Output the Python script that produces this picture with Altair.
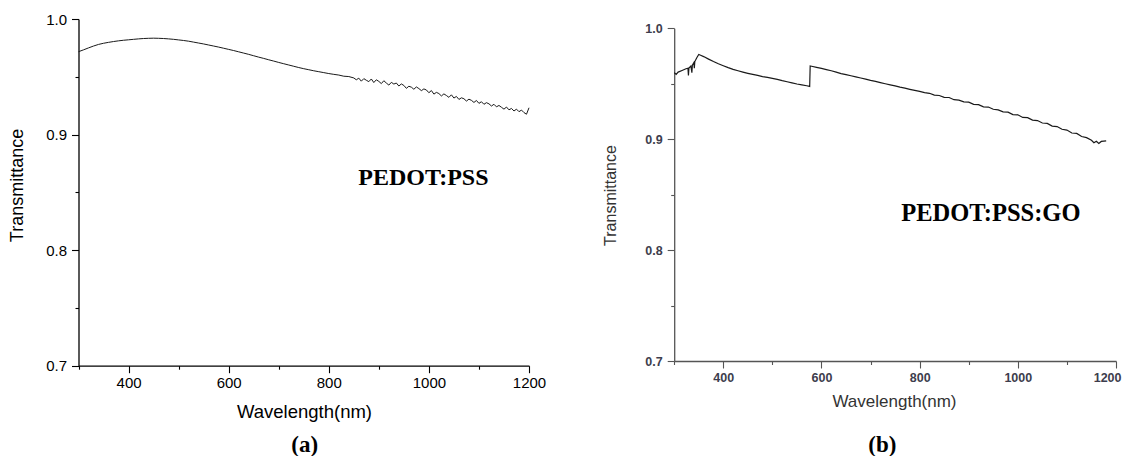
import altair as alt
import pandas as pd

# ---------------- data ----------------
# Panel (a): PEDOT:PSS
wl_a = [300, 310, 320, 330, 340, 350, 360, 370, 380, 390,
        400, 410, 420, 430, 440, 450, 460, 470, 480, 490,
        500, 510, 520, 530, 540, 550, 560, 570, 580, 590,
        600, 610, 620, 630, 640, 650, 660, 670, 680, 690,
        700, 710, 720, 730, 740, 750, 760, 770, 780, 790,
        800, 810, 820, 830, 840, 850, 855, 860, 865, 870,
        875, 880, 885, 890, 895, 900, 905, 910, 915, 920,
        925, 930, 935, 940, 945, 950, 955, 960, 965, 970,
        975, 980, 985, 990, 995, 1000, 1005, 1010, 1015, 1020,
        1025, 1030, 1035, 1040, 1045, 1050, 1055, 1060, 1065, 1070,
        1075, 1080, 1085, 1090, 1095, 1100, 1105, 1110, 1115, 1120,
        1125, 1130, 1135, 1140, 1145, 1150, 1155, 1160, 1165, 1170,
        1175, 1180, 1185, 1190, 1195, 1200]
t_a = [0.9717, 0.9733, 0.9750, 0.9766, 0.9780, 0.9790, 0.9798, 0.9805, 0.9811, 0.9816,
       0.9820, 0.9824, 0.9828, 0.9831, 0.9833, 0.9834, 0.9833, 0.9831, 0.9828, 0.9824,
       0.9819, 0.9814, 0.9808, 0.9800, 0.9792, 0.9784, 0.9775, 0.9766, 0.9757, 0.9747,
       0.9737, 0.9727, 0.9716, 0.9705, 0.9694, 0.9682, 0.9670, 0.9659, 0.9647, 0.9636,
       0.9624, 0.9613, 0.9602, 0.9591, 0.9580, 0.9570, 0.9561, 0.9552, 0.9544, 0.9536,
       0.9528, 0.9521, 0.9515, 0.9505, 0.9502, 0.9490, 0.9474, 0.9488, 0.9462, 0.9484,
       0.9470, 0.9458, 0.9481, 0.9450, 0.9474, 0.9460, 0.9441, 0.9466, 0.9446, 0.9428,
       0.9452, 0.9437, 0.9446, 0.9420, 0.9438, 0.9425, 0.9400, 0.9418, 0.9410, 0.9392,
       0.9412, 0.9398, 0.9380, 0.9395, 0.9386, 0.9362, 0.9381, 0.9350, 0.9365, 0.9355,
       0.9334, 0.9352, 0.9338, 0.9322, 0.9344, 0.9316, 0.9330, 0.9304, 0.9318, 0.9310,
       0.9290, 0.9306, 0.9296, 0.9278, 0.9295, 0.9270, 0.9284, 0.9262, 0.9276, 0.9266,
       0.9247, 0.9262, 0.9240, 0.9252, 0.9236, 0.9220, 0.9238, 0.9214, 0.9226, 0.9204,
       0.9220, 0.9198, 0.9212, 0.9190, 0.9176, 0.9232]

# Panel (b): PEDOT:PSS:GO
wl_b = [300, 304, 308, 316, 324, 328, 329, 330, 334, 336,
        337, 340, 341, 342, 346, 350, 355, 360, 370, 380,
        390, 400, 410, 420, 430, 440, 450, 460, 470, 480,
        490, 500, 510, 520, 530, 540, 550, 560, 570, 576,
        577, 580, 590, 600, 610, 620, 630, 640, 650, 660,
        670, 680, 690, 700, 710, 720, 730, 740, 750, 760,
        770, 780, 790, 800, 810, 820, 830, 840, 850, 860,
        870, 880, 890, 900, 910, 920, 930, 940, 950, 960,
        970, 980, 990, 1000, 1010, 1020, 1030, 1040, 1050, 1060,
        1070, 1080, 1090, 1100, 1110, 1120, 1130, 1140, 1150, 1155,
        1160, 1165, 1170, 1180]
t_b = [0.9600, 0.9585, 0.9605, 0.9620, 0.9635, 0.9640, 0.9575, 0.9642, 0.9660, 0.9600,
       0.9668, 0.9690, 0.9640, 0.9700, 0.9735, 0.9764, 0.9755, 0.9745, 0.9722, 0.9700,
       0.9680, 0.9662, 0.9645, 0.9630, 0.9617, 0.9605, 0.9594, 0.9584, 0.9575, 0.9565,
       0.9557, 0.9548, 0.9540, 0.9528, 0.9518, 0.9508, 0.9498, 0.9490, 0.9482, 0.9476,
       0.9660, 0.9658, 0.9648, 0.9638, 0.9628, 0.9617, 0.9605, 0.9592, 0.9582, 0.9572,
       0.9562, 0.9552, 0.9542, 0.9530, 0.9521, 0.9510, 0.9500, 0.9490, 0.9481, 0.9470,
       0.9461, 0.9450, 0.9440, 0.9431, 0.9420, 0.9414, 0.9398, 0.9394, 0.9378, 0.9376,
       0.9356, 0.9352, 0.9336, 0.9334, 0.9314, 0.9312, 0.9292, 0.9290, 0.9270, 0.9264,
       0.9246, 0.9244, 0.9222, 0.9220, 0.9196, 0.9194, 0.9172, 0.9168, 0.9146, 0.9142,
       0.9118, 0.9114, 0.9090, 0.9082, 0.9056, 0.9052, 0.9024, 0.9014, 0.8990, 0.8968,
       0.8982, 0.8962, 0.8980, 0.8985]

# annotation texts (positions in data units)
labels_a = ["PEDOT:PSS"]
label_a_wl = [989]
label_a_t = [0.862]
labels_b = ["PEDOT:PSS:GO"]
label_b_wl = [945]
label_b_t = [0.8327]
caption_a = ["(a)"]
caption_a_wl = [752]
caption_a_t = [0.6318]
caption_b = ["(b)"]
caption_b_wl = [724]
caption_b_t = [0.6245]

x_ticks = [300, 400, 500, 600, 700, 800, 900, 1000, 1100, 1200]
y_ticks = [0.7, 0.75, 0.8, 0.85, 0.9, 0.95, 1.0]

df_a = pd.DataFrame({"wl": wl_a, "T": t_a})
df_b = pd.DataFrame({"wl": wl_b, "T": t_b})
ann_a = pd.DataFrame({"wl": label_a_wl, "T": label_a_t, "txt": labels_a})
ann_b = pd.DataFrame({"wl": label_b_wl, "T": label_b_t, "txt": labels_b})
cap_a = pd.DataFrame({"wl": caption_a_wl, "T": caption_a_t, "txt": caption_a})
cap_b = pd.DataFrame({"wl": caption_b_wl, "T": caption_b_t, "txt": caption_b})

W, H = 1114, 448
SANS = "Liberation Sans"
SERIF = "Liberation Serif"

x_major = "datum.value % 200 == 0"
y_major = "abs(datum.value * 10 - round(datum.value * 10)) < 0.001"


def x_axis(offset, color, lab_color, lab_size, lab_weight, title_x, title_y,
           title_size, title_color, flush=False, flush_offset=0):
    return alt.Axis(
        orient="bottom", offset=offset, values=x_ticks, grid=False,
        labelExpr=f"({x_major}) ? format(datum.value, 'd') : ''",
        tickSize=alt.condition(x_major, alt.value(7), alt.value(3.5)),
        tickColor=color, tickWidth=1.1, domainColor=color, domainWidth=1.3,
        labelFont=SANS, labelFontSize=lab_size, labelColor=lab_color,
        labelFontWeight=lab_weight, labelPadding=3, labelFlush=flush,
        labelFlushOffset=flush_offset, labelOverlap=False,
        title="Wavelength(nm)", titleFont=SANS, titleFontSize=title_size,
        titleFontWeight="normal", titleColor=title_color,
        titleX=title_x, titleY=title_y, titleAlign="center", titleBaseline="middle",
    )


def y_axis(offset, color, lab_color, lab_size, lab_weight, title_x, title_y, title_size, title_color):
    return alt.Axis(
        orient="left", offset=offset, values=y_ticks, grid=False,
        labelExpr=f"({y_major}) ? format(datum.value, '.1f') : ''",
        tickSize=alt.condition(y_major, alt.value(7), alt.value(3.5)),
        tickColor=color, tickWidth=1.1, domainColor=color, domainWidth=1.3,
        labelFont=SANS, labelFontSize=lab_size, labelColor=lab_color,
        labelFontWeight=lab_weight, labelPadding=5, labelFlush=False, labelOverlap=False,
        title="Transmittance", titleFont=SANS, titleFontSize=title_size,
        titleFontWeight="normal", titleColor=title_color, titleAngle=270,
        titleX=title_x, titleY=title_y, titleAlign="center", titleBaseline="middle",
    )


# ---------------- panel (a) ----------------
xa = alt.X("wl:Q", scale=alt.Scale(domain=[300, 1200], range=[70.5, 521]),
           axis=x_axis(357.7 - H, "#000000", "#000000", 15, "normal", 296, 46, 18.5, "#000000"))
ya = alt.Y("T:Q", scale=alt.Scale(domain=[0.7, 1.0], range=[357.7, 11]),
           axis=y_axis(-70.5, "#000000", "#000000", 15, "normal", -61, 177, 18, "#000000"))

line_a = alt.Chart(df_a).mark_line(color="#1a1a1a", strokeWidth=1).encode(x=xa, y=ya)
text_a = alt.Chart(ann_a).mark_text(font=SERIF, fontSize=24, fontWeight="bold",
                                    color="#000000", baseline="middle", align="center").encode(
    x=xa, y=ya, text="txt:N")
capt_a = alt.Chart(cap_a).mark_text(font=SERIF, fontSize=23, fontWeight="bold",
                                    color="#000000", baseline="middle", align="center").encode(
    x=xa, y=ya, text="txt:N")
panel_a = alt.layer(line_a, text_a, capt_a)

# ---------------- panel (b) ----------------
xb = alt.X("wl:Q", scale=alt.Scale(domain=[300, 1200], range=[666.2, 1108]),
           axis=x_axis(353 - H, "#555555", "#3d3d4d", 12.5, "bold", 886, 40.7, 17, "#333333",
                       flush=True, flush_offset=5))
yb = alt.Y("T:Q", scale=alt.Scale(domain=[0.7, 1.0], range=[353, 20.3]),
           axis=y_axis(-666.2, "#555555", "#3d3d4d", 12.5, "bold", -63.5, 187, 16, "#333333"))

line_b = alt.Chart(df_b).mark_line(color="#1a1a1a", strokeWidth=1.2).encode(x=xb, y=yb)
text_b = alt.Chart(ann_b).mark_text(font=SERIF, fontSize=24.5, fontWeight="bold",
                                    color="#000000", baseline="middle", align="center").encode(
    x=xb, y=yb, text="txt:N")
capt_b = alt.Chart(cap_b).mark_text(font=SERIF, fontSize=23, fontWeight="bold",
                                    color="#000000", baseline="middle", align="center").encode(
    x=xb, y=yb, text="txt:N")
panel_b = alt.layer(line_b, text_b, capt_b)

chart = (
    alt.layer(panel_a, panel_b)
    .resolve_scale(x="independent", y="independent")
    .resolve_axis(x="independent", y="independent")
    .properties(width=W, height=H, padding=0,
                autosize=alt.AutoSizeParams(type="none"), background="#ffffff")
    .configure_view(stroke="transparent")
)

chart.save("out.html", embed_options={"renderer": "svg", "actions": False})
